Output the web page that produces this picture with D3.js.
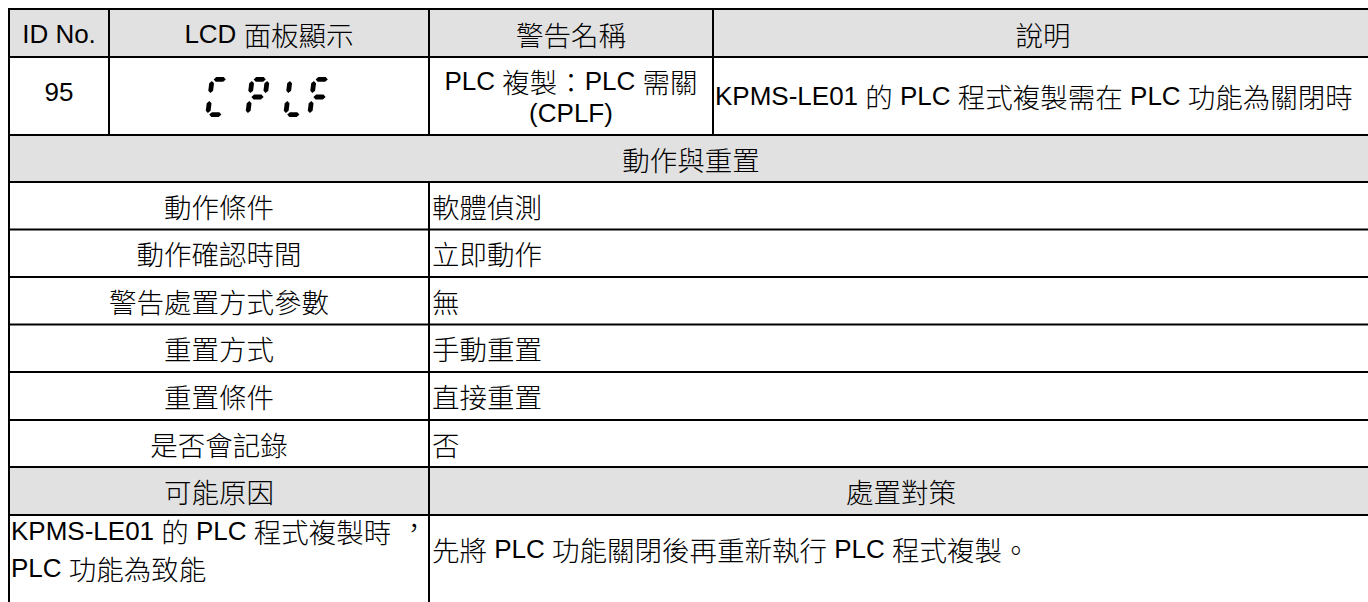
<!DOCTYPE html>
<html lang="zh-TW"><head><meta charset="utf-8">
<script src="https://cdn.jsdelivr.net/npm/d3@7"></script>
<style>
html,body{margin:0;padding:0;background:#fff;overflow:hidden}
text{font-family:"Liberation Sans","Noto Sans CJK TC",sans-serif;fill:#000}
.cjk{font-family:"Noto Sans CJK TC",sans-serif;font-weight:300}
</style></head><body>
<svg id="c" width="1368" height="602" lang="zh-TW"></svg>
<script>
// ---- data ----
const headers = ["ID No.", "LCD 面板顯示", "警告名稱", "說明"];
const idNo = "95";
const lcdText = "CPLF";
const warnName = ["PLC 複製：PLC 需關", "(CPLF)"];
const description = "KPMS-LE01 的 PLC 程式複製需在 PLC 功能為關閉時";
const sectionTitle = "動作與重置";
const actionLabels = ["動作條件", "動作確認時間", "警告處置方式參數", "重置方式", "重置條件", "是否會記錄"];
const actionValues = ["軟體偵測", "立即動作", "無", "手動重置", "直接重置", "否"];
const causeHeaders = ["可能原因", "處置對策"];
const causeLines = ["KPMS-LE01 的 PLC 程式複製時，", "PLC 功能為致能"];
const remedyText = "先將 PLC 功能關閉後再重新執行 PLC 程式複製。";

// ---- layout ----
const svg = d3.select("#c");
const FS_LAT = 26, FS_CJK = 27.5;
const colX = [9, 109, 429, 713, 1373];
const rowY = [9, 57, 135, 182, 229.5, 277, 324.5, 372, 420, 467, 515, 640];
const gray = "#e1e1e1";

const g = svg.append("g");
const grayRows = [0, 2, 9];
g.selectAll("rect.bg").data(grayRows).join("rect")
  .attr("x", colX[0]).attr("width", colX[4] - colX[0])
  .attr("y", d => rowY[d]).attr("height", d => rowY[d + 1] - rowY[d])
  .attr("fill", gray);

const cjkRe = /([\u3000-\u9fff\uff00-\uffef]+)/;
function txt(x, y, s, anchor) {
  const t = g.append("text").attr("x", x).attr("y", y).attr("text-anchor", anchor || "middle")
    .attr("dominant-baseline", "central").attr("font-size", FS_LAT);
  s.split(cjkRe).filter(p => p.length).forEach(p => {
    const isC = cjkRe.test(p) && p.match(cjkRe)[0] === p;
    if (isC && p.endsWith("，")) {
      // Traditional-Chinese style centred comma
      t.append("tspan").attr("class", "cjk").attr("font-size", FS_CJK).text(p.slice(0, -1));
      t.append("tspan").attr("class", "cjk").attr("font-size", FS_CJK)
        .attr("dx", 9).attr("dy", -5).text("，");
      return;
    }
    t.append("tspan").attr("class", isC ? "cjk" : null)
      .attr("font-size", isC ? FS_CJK : FS_LAT).text(p);
  });
}
const mid = (a, b) => (a + b) / 2;

headers.forEach((h, i) => txt(mid(colX[i], colX[i + 1]), mid(rowY[0], rowY[1]) + 1, h));
const r1 = mid(rowY[1], rowY[2]);
txt(mid(colX[0], colX[1]), r1 - 4, idNo);
txt(mid(colX[2], colX[3]), r1 - 15, warnName[0]);
txt(mid(colX[2], colX[3]), r1 + 17, warnName[1]);
txt(colX[3] + 2, r1, description, "start");
txt(mid(colX[0], colX[4]), mid(rowY[2], rowY[3]), sectionTitle);
actionLabels.forEach((l, i) => {
  const y = mid(rowY[3 + i], rowY[4 + i]);
  txt(mid(colX[0], colX[2]), y, l);
  txt(colX[2] + 3, y, actionValues[i], "start");
});
txt(mid(colX[0], colX[2]), mid(rowY[9], rowY[10]), causeHeaders[0]);
txt(mid(colX[2], colX[4]), mid(rowY[9], rowY[10]), causeHeaders[1]);
txt(colX[0] + 2, 531, causeLines[0], "start");
txt(colX[0] + 2, 568, causeLines[1], "start");
txt(colX[2] + 3, 549, remedyText, "start");

// ---- LCD seven-segment glyphs ----
const segMap = {C: "adef", P: "abefg", L: "def", F: "aefg"};
const gw = 20, gh = 40, slant = 5, t = 4.8;
function segPoly(seg) {
  const h2 = gh / 2, gap = 1.5;
  const hs = (y, x0, x1) => [[x0 + t/2 + gap, y], [x0 + t + gap, y - t/2], [x1 - t - gap, y - t/2], [x1 - t/2 - gap, y], [x1 - t - gap, y + t/2], [x0 + t + gap, y + t/2]];
  const vs = (x, y0, y1) => [[x, y0 + t/2 + gap], [x + t/2, y0 + t + gap], [x + t/2, y1 - t - gap], [x, y1 - t/2 - gap], [x - t/2, y1 - t - gap], [x - t/2, y0 + t + gap]];
  const L = t/2, R = gw - t/2, T = t/2, B = gh - t/2;
  switch (seg) {
    case "a": return hs(T, L - t/2, R + t/2);
    case "d": return hs(B, L - t/2, R + t/2);
    case "g": return hs(h2, L - t/2, R + t/2);
    case "f": return vs(L, T - t/2, h2);
    case "e": return vs(L, h2, B + t/2);
    case "b": return vs(R, T - t/2, h2);
    case "c": return vs(R, h2, B + t/2);
  }
}
const lcdX = d3.scaleOrdinal().domain([0, 1, 2, 3]).range([205, 245, 283, 307]);
const lcdTop = 77;
lcdText.split("").forEach((ch, i) => {
  const x0 = lcdX(i);
  segMap[ch].split("").forEach(s => {
    const pts = segPoly(s).map(([x, y]) => [x0 + x + slant * (1 - y / gh), lcdTop + y]);
    g.append("path").attr("d", d3.line()(pts) + "Z").attr("fill", "#000");
  });
});

// ---- grid lines ----
const lines = [];
rowY.slice(0, 11).forEach(y => lines.push([colX[0], y, colX[4], y]));
lines.push([colX[0], rowY[0], colX[0], rowY[11]]);
[1, 2, 3].forEach(i => lines.push([colX[i], rowY[0], colX[i], rowY[2]]));
lines.push([colX[2], rowY[3], colX[2], rowY[11]]);
g.selectAll("line.grid").data(lines).join("line")
  .attr("x1", d => d[0]).attr("y1", d => d[1]).attr("x2", d => d[2]).attr("y2", d => d[3])
  .attr("stroke", "#000").attr("stroke-width", 2).attr("stroke-linecap", "square");
</script></body></html>
